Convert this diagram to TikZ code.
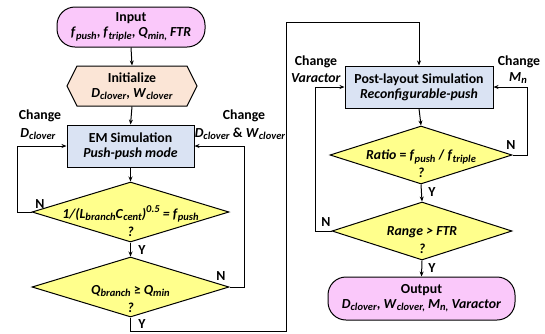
\documentclass[tikz,border=0pt]{standalone}
\usepackage{fontspec}
\setmainfont{Carlito}
\usetikzlibrary{shapes.geometric,arrows.meta}
\definecolor{pinkf}{RGB}{250,200,250}
\definecolor{peachf}{RGB}{251,229,214}
\definecolor{bluef}{RGB}{218,227,243}
\definecolor{yellowf}{RGB}{255,255,140}
\newcommand{\sbx}[1]{\raisebox{-0.35ex}{\fontsize{10.5}{10}\selectfont\textit{#1}}}
\newcommand{\spx}[1]{\raisebox{0.9ex}{\fontsize{10.5}{10}\selectfont\textit{#1}}}
\newcommand{\vsb}[2]{\textit{#1}\sbx{#2}}
\begin{document}
\begin{tikzpicture}[x=1pt,y=-1pt,
  font=\fontsize{13.8}{15}\selectfont\bfseries,
  line width=1pt,
  arr/.style={-{Stealth[length=5pt,width=4pt]}},
  term/.style={draw, fill=pinkf, rounded corners=18pt, align=center, inner sep=0pt},
  procbox/.style={draw, fill=bluef, align=center, inner sep=0pt},
  dia/.style={draw, fill=yellowf, diamond, inner sep=0pt},
  txt/.style={align=center, inner sep=0pt},
  yn/.style={inner sep=0pt}
]
\useasboundingbox (0,0) rectangle (545,333);

% Left column
\node[term, minimum width=148pt, minimum height=40pt] (input) at (131,27)
  {Input\\[0pt]\vsb{f}{push}, \vsb{f}{triple}, \vsb{Q}{min,} \textit{FTR}};
\filldraw[fill=peachf] (67,86) -- (77,66) -- (187,66) -- (197,86) -- (187,106) -- (77,106) -- cycle;
\node[txt, minimum width=130pt, minimum height=40pt] (init) at (132,86)
  {Initialize\\[0pt]\vsb{D}{clover}, \vsb{W}{clover}};
\node[procbox, minimum width=127pt, minimum height=42pt] (em) at (130.5,146)
  {EM Simulation\\[0pt]\textit{Push-push mode}};
\node[dia, minimum width=197pt, minimum height=60pt] (d1) at (130.5,212) {};
\node[txt] (d1t) at (130.5,221)
  {\textit{1/(L}\sbx{branch}\textit{C}\sbx{cent}\textit{)}\spx{0.5}\textit{ = f}\sbx{push}\\[3pt]\textit{?}};
\node[dia, minimum width=197pt, minimum height=60pt] (d2) at (130.5,287) {};
\node[txt] (d2t) at (130.5,299)
  {\vsb{Q}{branch} ≥ \vsb{Q}{min}\\[3pt]\textit{?}};

% Right column
\node[procbox, minimum width=148pt, minimum height=42pt] (pl) at (419,87)
  {Post-layout Simulation\\[0pt]\textit{Reconfigurable-push}};
\node[dia, minimum width=182pt, minimum height=58pt] (ratio) at (421,155) {};
\node[txt] (ratiot) at (421,164)
  {\textit{Ratio} = \vsb{f}{push} / \vsb{f}{triple}\\[3pt]\textit{?}};
\node[dia, minimum width=180pt, minimum height=58pt] (range) at (422,231) {};
\node[txt] (ranget) at (422,240)
  {\textit{Range > FTR}\\[3pt]\textit{?}};
\node[term, minimum width=187pt, minimum height=43pt] (out) at (421.5,298.5)
  {Output\\[0pt]\vsb{D}{clover}, \vsb{W}{clover,} \vsb{M}{n,} \textit{Varactor}};

% Coordinates for routes
\coordinate (l1a) at (17,212);
\coordinate (l1b) at (17,146);
\coordinate (r1a) at (244,287);
\coordinate (r1b) at (244,146);
\coordinate (b1) at (130.5,331);
\coordinate (b2) at (286,331);
\coordinate (b3) at (286,22);
\coordinate (b4) at (419,22);
\coordinate (rl1) at (315,231);
\coordinate (rl2) at (315,87);
\coordinate (rr1) at (527,155);
\coordinate (rr2) at (527,87);

% Connectors
\draw[arr] (input.south) -- (init.north);
\draw[arr] (init.south) -- (em.north);
\draw[arr] (em.south) -- (d1.north);
\draw[arr] (d1.south) -- (d2.north);
\draw[arr] (d1.west) -- (l1a) -- (l1b) -- (em.west);
\draw[arr] (d2.east) -- (r1a) -- (r1b) -- (em.east);
\draw[arr] (d2.south) -- (b1) -- (b2) -- (b3) -- (b4) -- (pl.north);
\draw[arr] (pl.south) -- (ratio.north);
\draw[arr] (ratio.south) -- (range.north);
\draw[arr] (ratio.east) -- (rr1) -- (rr2) -- (pl.east);
\draw[arr] (range.west) -- (rl1) -- (rl2) -- (pl.west);
\draw[arr] (range.south) -- (out.north);

% Y / N labels
\node[yn] (n1) at (40,204) {N};
\node[yn] (y1) at (142,250) {Y};
\node[yn] (n2) at (221,276) {N};
\node[yn] (y2) at (142,324) {Y};
\node[yn] (y3) at (432,192) {Y};
\node[yn] (n3) at (511,145) {N};
\node[yn] (n4) at (326,222) {N};
\node[yn] (y4) at (432,268) {Y};

% Change labels
\node[txt] (c1) at (40,116) {Change};
\node[txt] (c1b) at (38,134) {\vsb{D}{clover}};
\node[txt] (c2) at (244,116) {Change};
\node[txt] (c2b) at (240,134) {\vsb{D}{clover} \& \vsb{W}{clover}};
\node[txt] (c3) at (316,62) {Change};
\node[txt] (c3b) at (316,78) {\textit{Varactor}};
\node[txt] (c4) at (519,62) {Change};
\node[txt] (c4b) at (518,78) {\vsb{M}{n}};
\end{tikzpicture}
\end{document}
